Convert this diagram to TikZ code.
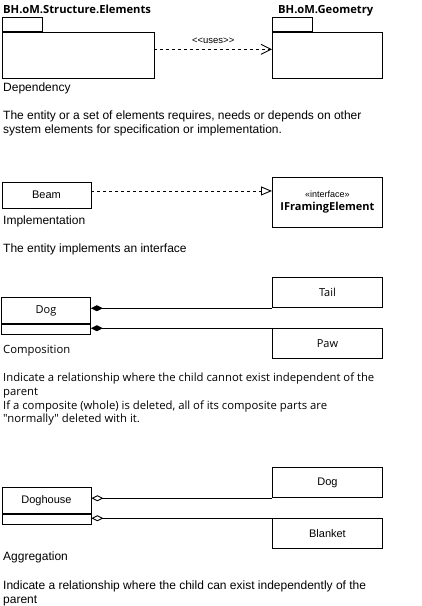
\documentclass[tikz,border=0pt]{standalone}
\usepackage{fontspec}
\setmainfont{Liberation Sans}
\newfontfamily\segoe{Open Sans}
\usetikzlibrary{arrows.meta,positioning}
\begin{document}
\begin{tikzpicture}
    [x=1pt,y=-1pt,
     box/.style={draw,line width=0.9pt,inner sep=0pt,anchor=north west,font=\fontsize{11}{13}\selectfont},
     note/.style={inner sep=0pt,anchor=base west,align=left,font=\fontsize{12}{13.7}\selectfont},
     softnote/.style={note,font=\segoe\fontsize{11.3}{13.7}\selectfont},
     title/.style={inner sep=0pt,anchor=base west,font=\segoe\bfseries\fontsize{11.2}{13}\selectfont},
     uses/.style={draw,line width=0.9pt,dashed,-{Straight Barb[length=10pt,width=10pt]}},
     realize/.style={draw,line width=0.9pt,dashed,-{Triangle[open,length=11pt,width=9pt,fill=white]}},
     compose/.style={draw,line width=0.9pt,{Diamond[length=12pt,width=6pt]}-},
     aggregate/.style={draw,line width=0.9pt,{Diamond[open,length=12pt,width=6pt]}-}]
    \useasboundingbox (0,0) rectangle (422,606);
    % dependency
    \node[title] (structName) at (3,13.3) {BH.oM.Structure.Elements};
    \node[box,minimum width=40pt,minimum height=14pt] (structTab) at (1.5,17) {};
    \node[box,minimum width=152pt,minimum height=46pt] (structBody) at (structTab.south west) {};
    \node[title] (geomName) at (278,13.3) {BH.oM.Geometry};
    \node[box,minimum width=40pt,minimum height=14pt] (geomTab) at (272,17) {};
    \node[box,minimum width=110pt,minimum height=46pt] (geomBody) at (geomTab.south west) {};
    \draw[uses] ([yshift=6pt]structBody.east) -- ([yshift=6pt]geomBody.west)
        node[midway,above=5.8pt,inner sep=0pt,font=\fontsize{9.5}{10}\selectfont] (usesLabel) {<\kern0pt<uses>\kern0pt>};
    \node[note] (depName) at (3,91.5) {Dependency};
    \node[note] (depText) at (3,133.5) {The entity or a set of elements requires, needs or depends on other\\
        system elements for specification or implementation.};
    % implementation
    \node[box,minimum width=89pt,minimum height=26pt] (beam) at (1.5,181.5) {Beam};
    \node[box,minimum width=110pt,minimum height=50pt,align=center] (iface) at (272,177)
        {\fontsize{9}{13}\selectfont «interface»\\\segoe\bfseries\fontsize{11}{13}\selectfont IFramingElement};
    \draw[realize] ([yshift=4pt]beam.east) -- ([yshift=4pt]beam.east -| iface.west);
    \node[note] (implName) at (3,224) {Implementation};
    \node[note] (implText) at (3,252.3) {The entity implements an interface};
    % composition
    \node[box,minimum width=89pt,minimum height=26pt,font=\segoe\fontsize{11}{13}\selectfont] (dog) at (1,297.3) {Dog};
    \node[box,minimum width=89pt,minimum height=10pt,anchor=north] (dogAttrs) at (dog.south) {};
    \node[box,minimum width=110pt,minimum height=30pt,font=\segoe\fontsize{11}{13}\selectfont] (tail) at (272,277.3) {Tail};
    \node[box,minimum width=110pt,minimum height=30pt,font=\segoe\fontsize{11}{13}\selectfont,below=20pt of tail.south west,anchor=north west] (paw) {Paw};
    \draw[compose] (dog.east |- tail.south) -- (tail.south west);
    \draw[compose] (dogAttrs.east |- paw.north) -- (paw.north west);
    \node[softnote] (compName) at (3,353.7) {Composition};
    \node[softnote] (compText) at (3,422.7) {Indicate a relationship where the child cannot exist independent of the\\
        parent\\
        If a composite (whole) is deleted, all of its composite parts are\\
        "normally" deleted with it.};
    % aggregation
    \node[box,minimum width=89pt,minimum height=26pt] (house) at (1.5,487.3) {Doghouse};
    \node[box,minimum width=89pt,minimum height=10pt,anchor=north] (houseAttrs) at (house.south) {};
    \node[box,minimum width=110pt,minimum height=30pt] (houseDog) at (272,467.3) {Dog};
    \node[box,minimum width=110pt,minimum height=30pt,below=20pt of houseDog.south west,anchor=north west] (blanket) {Blanket};
    \draw[aggregate] (house.east |- houseDog.south) -- (houseDog.south west);
    \draw[aggregate] (houseAttrs.east |- blanket.north) -- (blanket.north west);
    \node[note] (aggName) at (3,560) {Aggregation};
    \node[note] (aggText) at (3,603) {Indicate a relationship where the child can exist independently of the\\
        parent};
\end{tikzpicture}
\end{document}
